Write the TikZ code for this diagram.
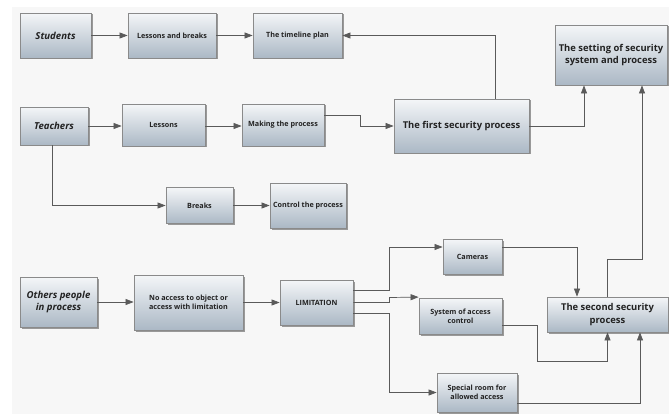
\documentclass[tikz,border=0pt]{standalone}
\usepackage{fontspec}
\setmainfont{Open Sans}
\usetikzlibrary{arrows.meta,shadows,positioning}
\definecolor{bgc}{HTML}{F7F7F7}
\definecolor{edgec}{HTML}{5A5A5A}
\definecolor{boxtop}{HTML}{F4F6F8}
\definecolor{boxbot}{HTML}{ABB8C5}
\definecolor{boxline}{HTML}{8A8A8A}
\definecolor{txt}{HTML}{222222}
\tikzset{
  box/.style={draw=boxline, line width=0.8pt, top color=boxtop, bottom color=boxbot,
    drop shadow={shadow xshift=1.5pt, shadow yshift=-1.5pt, opacity=0.55, fill=black!70},
    inner sep=1pt, align=center, text=txt, font=\fontsize{7.2}{8.6}\selectfont\bfseries},
  bigbox/.style={box, font=\fontsize{9.4}{12.5}\selectfont\bfseries},
  ibox/.style={box, font=\fontsize{9.6}{12.5}\selectfont\bfseries\itshape},
  arr/.style={draw=edgec, line width=0.7pt, -{Triangle[length=8pt,width=6pt]}},
  ln/.style={draw=edgec, line width=0.7pt}
}
\newcommand{\bx}[7]{\node[#1, minimum width=#5pt, minimum height=#6pt] (#2) at (#3,#4) {#7};}
\begin{document}
\begin{tikzpicture}[x=1pt,y=-1pt]
\useasboundingbox (0,0) rectangle (669,414);
\fill[bgc] (12,7) rectangle (669,414);
% nodes
\bx{ibox}{stud}{55.5}{35.5}{71}{45}{Students}
\bx{box}{lb}{172}{35.5}{88}{45}{Lessons and breaks}
\bx{box}{tl}{297.5}{35.5}{89}{45}{The timeline plan}
\bx{ibox}{teach}{54}{126}{68}{38}{Teachers}
\bx{box}{less}{163.5}{125}{83}{42}{Lessons}
\bx{box}{mak}{283}{125}{82}{42}{Making the process}
\bx{box}{brk}{199.5}{205.5}{67}{36}{Breaks}
\bx{box}{ctrl}{308}{205.5}{76}{45}{Control the process}
\bx{bigbox}{first}{461.5}{126}{135}{54}{The first security process}
\bx{bigbox}{set}{611}{55}{112}{60}{The setting of security\\system and process}
\bx{ibox}{oth}{58.5}{302}{77}{50}{Others people\\in process}
\bx{box}{nac}{188.5}{302.5}{109}{55}{No access to object or\\access with limitation}
\bx{box}{lim}{316.5}{302.5}{73}{45}{LIMITATION}
\bx{box}{cam}{472.5}{256.5}{59}{35}{Cameras}
\bx{box}{sys}{460.5}{316}{83}{36}{System of access\\control}
\bx{box}{spc}{477}{392.5}{80}{39}{Special room for\\allowed access}
\bx{bigbox}{sec}{607.5}{314.5}{121}{35}{The second security\\process}
% connectors
\draw[arr] (stud.east) -- (stud.east -| lb.west);
\draw[arr] (lb.east) -- (lb.east -| tl.west);
\draw[arr] ([xshift=33.5pt]first.north) |- (tl.east);
\draw[arr] (teach.east) -- (teach.east -| less.west);
\draw[arr] (teach.east -| less.east) -- (teach.east -| mak.west);
\draw[arr] ([yshift=10pt]mak.east) -- ++(36,0) |- (first.west);
\draw[arr] ([xshift=-2pt]teach.south) |- (brk.west);
\draw[arr] (brk.east) -- (brk.east -| ctrl.west);
\draw[arr] (first.east) -| ([xshift=-27pt]set.south);
\draw[arr] (sec.north) -- ++(0,-37) -| ([xshift=31pt]set.south);
\draw[arr] (oth.east) -- (oth.east -| nac.west);
\draw[arr] (nac.east) -- (nac.east -| lim.west);
\draw[arr] ([yshift=12.5pt]lim.east) -- ++(36,0) |- ([yshift=9.5pt]cam.west);
\draw[arr] (lim.east) -- ++(36,0) -- ++(0,-5) -- ([yshift=0.5pt]sys.north west);
\draw[arr] ([yshift=-10.5pt]lim.east) -- ++(36,0) |- (spc.west);
\draw[arr] ([yshift=9.5pt]cam.east) -| ([xshift=-30.5pt]sec.north);
\draw[arr] ([yshift=-9pt]sys.east) -- ++(35,0) -- ++(0,36) -| (sec.south);
\draw[arr] ([yshift=-10.5pt]spc.east) -| ([xshift=32.5pt]sec.south);
\end{tikzpicture}
\end{document}
